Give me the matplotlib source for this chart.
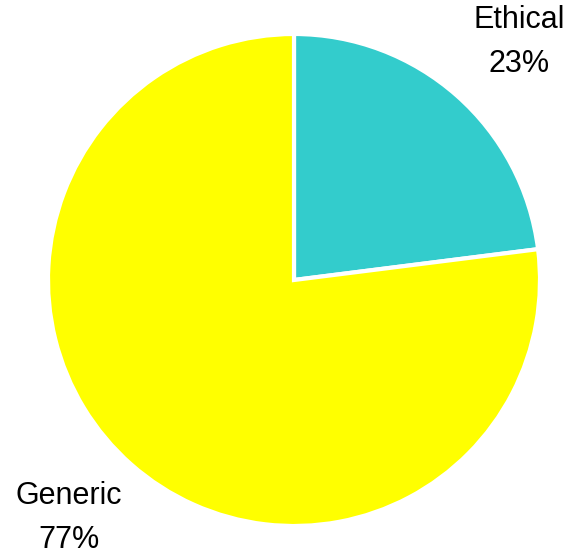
import numpy as np
import matplotlib
matplotlib.use("Agg")
import matplotlib.pyplot as plt

categories = ["Ethical", "Generic"]
shares = [23, 77]
colors = ["#33CCCC", "#FFFF00"]

fig = plt.figure(figsize=(5.68, 5.55), dpi=100)
ax = fig.add_axes([0, 0, 1, 1])

cx, cy, r = 294, 275, 246
labels = [f"{c}\n{s}%" for c, s in zip(categories, shares)]
wedges, texts = ax.pie(shares, labels=labels, colors=colors, startangle=90,
                       counterclock=False, center=(cx, cy), radius=r,
                       explode=[0.012, 0], labeldistance=1.33,
                       wedgeprops=dict(edgecolor="white", linewidth=3),
                       textprops=dict(fontsize=22, family="Liberation Sans",
                                      color="black"))
for w, t in zip(wedges, texts):
    ang = np.deg2rad((w.theta1 + w.theta2) / 2 - 2)
    t.set_position((cx + 1.333 * r * np.cos(ang), cy + 1.333 * r * np.sin(ang)))
    t.set_ha("center")
    t.set_va("center")
    t.set_multialignment("center")
    t.set_linespacing(1.6)

ax.set_xlim(0, 568)
ax.set_ylim(0, 555)
ax.set_aspect("equal")
ax.axis("off")

fig.savefig("out.png", dpi=100)
plt.close(fig)
